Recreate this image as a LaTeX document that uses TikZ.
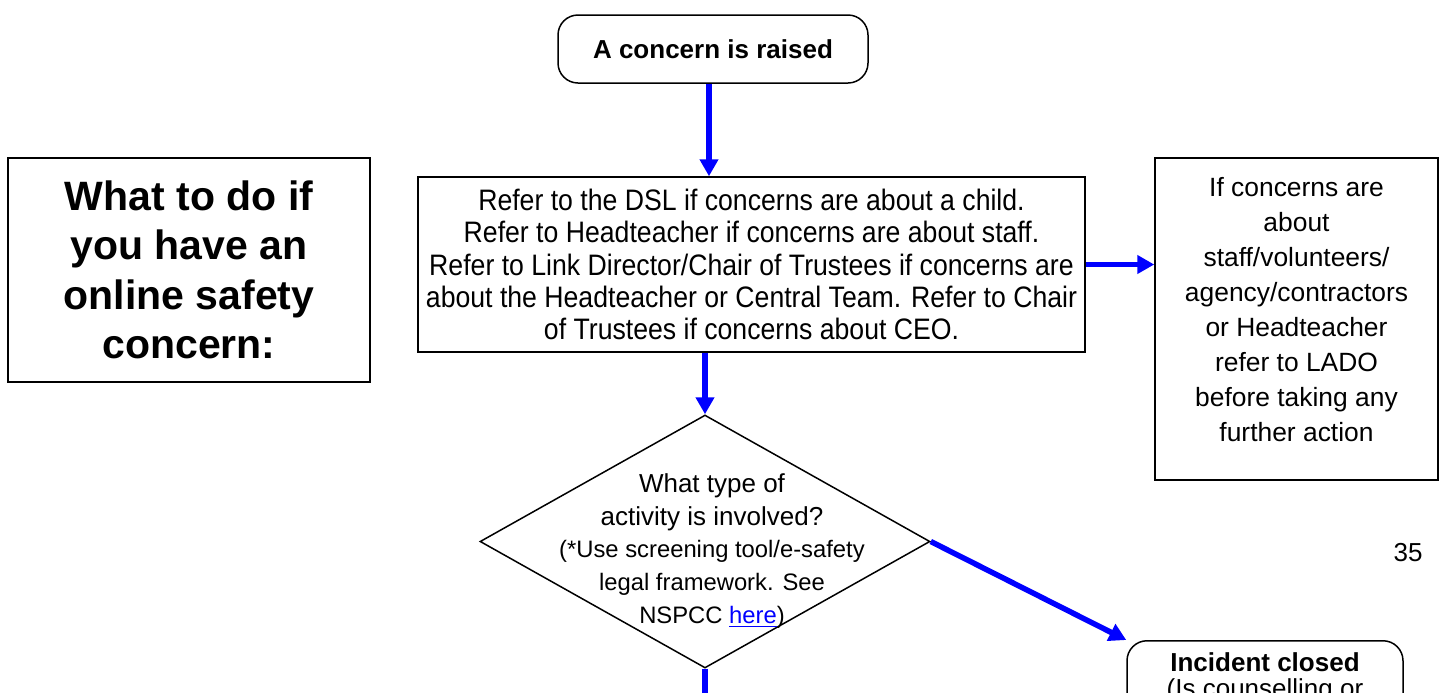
\documentclass[tikz,border=0pt]{standalone}
\usepackage{fontspec}
\setmainfont{Liberation Sans}
\newfontfamily\narrowsans{Liberation Sans}[FakeStretch=0.9]
\usetikzlibrary{shapes.geometric,arrows.meta}

\begin{document}
\begin{tikzpicture}[x=0.5pt,y=-0.5pt]
\tikzstyle{box}=[draw, line width=0.75pt, align=center, inner sep=0pt]
\tikzstyle{start}=[box, rounded corners=10pt, font=\fontsize{13}{13}\selectfont\bfseries]
\tikzstyle{decision}=[diamond, draw, line width=0.75pt, inner sep=0pt, minimum width=225pt, minimum height=126.5pt]
\tikzstyle{flow}=[blue, line width=2.75pt, -{Triangle[width=9pt,length=8.5pt]}]

\path[use as bounding box] (0,0) rectangle (1445,692);
\clip (0,0) rectangle (1445,692);

\node[box, minimum width=181pt, minimum height=112pt, font=\fontsize{20.5}{24.7}\selectfont\bfseries] (title) at (189,270)
  {What to do if\\you have an\\online safety\\concern:};
\node[start, minimum width=155pt, minimum height=34pt] (concern) at (713,49) {A concern is raised};
\node[box, minimum width=333.5pt, minimum height=87.5pt, font=\narrowsans\fontsize{14.8}{16.1}\selectfont] (refer) at (751.5,264.5)
  {Refer to the DSL if concerns are about a child.\\
   Refer to Headteacher if concerns are about staff.\\
   Refer to Link Director/Chair of Trustees if concerns are\\
   about the Headteacher or Central Team. Refer to Chair\\
   of Trustees if concerns about CEO.};
\node[box, minimum width=141.5pt, minimum height=161pt, text depth=9.5pt, font=\fontsize{13.2}{17.5}\selectfont] (lado) at (1296.5,319)
  {If concerns are\\about\\staff/volunteers/\\agency/contractors\\or Headteacher\\refer to LADO\\before taking any\\further action};
\node[decision] (activity) at (705,541.5) {};
\node[align=center, inner sep=0pt, font=\fontsize{13}{16.3}\selectfont] (activitytext) at (712,551)
  {What type of\\activity is involved?\\
   \fontsize{11.9}{16.3}\selectfont (*Use screening tool/e-safety\\
   \fontsize{11.9}{16.3}\selectfont legal framework. See\\
   \fontsize{11.9}{16.3}\selectfont NSPCC \textcolor{blue}{\underline{here}})};
\node[start, anchor=north, minimum width=138pt, text depth=50pt, inner ysep=6pt] (closed) at (1265,640)
  {Incident closed\\{\mdseries (Is counselling or}};
\node[font=\fontsize{13}{16}\selectfont] (pagenum) at (1408,553) {35};

\draw[flow] ([xshift=-2pt]concern.south) -- ([xshift=-2pt]concern.south |- refer.north);
\draw[flow, line width=2.25pt] (refer.east) -- (refer.east -| lado.west);
\draw[flow] (activity.north |- refer.south) -- (activity.north);
\draw[flow] (activity.east) -- (closed.north west);
\coordinate (below) at (703,740);
\draw[flow] (activity.south) -- (activity.south |- below);
\end{tikzpicture}
\end{document}
